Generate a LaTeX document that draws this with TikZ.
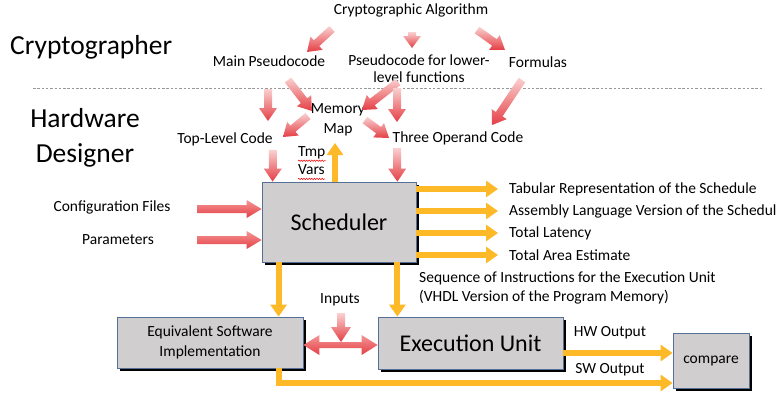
\documentclass[tikz,border=0pt]{standalone}
\usepackage{fontspec}
\setmainfont{Carlito}
\usetikzlibrary{calc,arrows.meta,shadows,decorations.pathmorphing}

\definecolor{redtop}{RGB}{250,208,208}
\definecolor{redmid}{RGB}{244,150,150}
\definecolor{redbot}{RGB}{228,62,68}
\definecolor{gold}{RGB}{253,185,40}
\definecolor{boxfill}{RGB}{208,206,206}
\definecolor{boxline}{RGB}{84,112,150}

\tikzset{redshade/.style={top color=redtop, bottom color=redbot}}

% block arrow with a top-to-bottom red shading:
% #1 shaft half width, #2 head half width, #3 head length, #4 tail, #5 tip
\newcommand\redarrowx[5]{%
  \coordinate (rs) at #4;
  \coordinate (re) at #5;
  \coordinate (rh) at ($(re)!#3pt!(rs)$);
  \shade[redshade]
    ($(rs)!#1pt!90:(re)$) -- ($(rh)!#1pt!90:(re)$) -- ($(rh)!#2pt!90:(re)$) -- (re)
    -- ($(rh)!#2pt!-90:(re)$) -- ($(rh)!#1pt!-90:(re)$) -- ($(rs)!#1pt!-90:(re)$) -- cycle;
}
\newcommand\redarrow[2]{\redarrowx{4}{9}{13}{#1}{#2}}

\begin{document}
\begin{tikzpicture}[x=1pt, y=-1pt,
  font=\fontsize{15.5}{17}\selectfont,
  every node/.style={inner sep=0pt},
  bigtext/.style={font=\fontsize{27.5}{35}\selectfont},
  boxtext/.style={font=\fontsize{24}{26}\selectfont},
  procbox/.style={draw=boxline, line width=0.8pt, fill=boxfill,
    drop shadow={shadow xshift=2.5pt, shadow yshift=-2.5pt, opacity=1, fill=black}},
  goldarrow/.style={draw=gold, line width=6pt, -{Triangle[width=16pt,length=12pt]}},
  spellmark/.style={draw=red, line width=0.5pt, decorate,
    decoration={snake, amplitude=0.7pt, segment length=2.6pt}}]

\useasboundingbox (0,0) rectangle (777,394);
\clip (0,0) rectangle (777,394);

% roles
\node[bigtext, anchor=west] (crypto) at (10,47) {Cryptographer};
\node[bigtext, align=center] (hd) at (85,138) {Hardware\\Designer};

% separator between the two roles
\draw[gray!80, line width=0.7pt, dash pattern=on 2.5pt off 1.8pt] (33,88) -- (762,88);

% cryptographer's artefacts
\node (ca) at (411,10) {Cryptographic Algorithm};
\node (mp) at (269,61) {Main Pseudocode};
\node[align=center] (plf) at (419,69) {Pseudocode for lower-\\level functions};
\node (fo) at (538,62) {Formulas};

% hardware designer's artefacts
\node[align=center, font=\fontsize{15.5}{20}\selectfont] (mm) at (338,120) {Memory\\Map};
\node (tl) at (225,139) {Top-Level Code};
\node (toc) at (458,138) {Three Operand Code};
\node[anchor=west] (tmp) at (298,153) {Tmp};
\node[anchor=west] (vars) at (298,170) {Vars};
\draw[spellmark] ([shift={(0,4)}]tmp.base west) -- ([shift={(0,4)}]tmp.base east);
\draw[spellmark] ([shift={(0,4)}]vars.base west) -- ([shift={(0,4)}]vars.base east);

% scheduler and its inputs / outputs
\node[procbox, minimum width=154pt, minimum height=80pt] (sched) at (339,222) {};
\node[boxtext] at (sched.center) {Scheduler};
\node (cfg) at (112,207) {Configuration Files};
\node (par) at (118,240) {Parameters};
\node[anchor=west] (o1) at (509,189) {Tabular Representation of the Schedule};
\node[anchor=west] (o2) at (509,211) {Assembly Language Version of the Schedule};
\node[anchor=west] (o3) at (509,233) {Total Latency};
\node[anchor=west] (o4) at (509,255) {Total Area Estimate};
\node[anchor=west, align=left, font=\fontsize{15.5}{19}\selectfont] (seq) at (419,288)
  {Sequence of Instructions for the Execution Unit\\(VHDL Version of the Program Memory)};

% execution and verification
\node[procbox, minimum width=186pt, minimum height=51pt, align=center,
  font=\fontsize{15.5}{20}\selectfont] (eq) at (210,342.5) {Equivalent Software\\Implementation};
\node[procbox, minimum width=185pt, minimum height=52pt, boxtext] (eu) at (470.5,343) {Execution Unit};
\node[procbox, minimum width=76pt, minimum height=55pt] (cmp) at (711,360.5) {compare};
\node (inp) at (340,300) {Inputs};
\node (hw) at (610,333) {HW Output};
\node (sw) at (610,370) {SW Output};

% red flows (top part)
\redarrow{([shift={(-79,19)}]ca.center)}{([shift={(38,-9)}]mp.center)}
\redarrowx{4}{9}{12}{([shift={(1,22)}]ca.center)}{([shift={(-7,-21)}]plf.center)}
\redarrow{([shift={(66,20)}]ca.center)}{([shift={(-33,-12)}]fo.center)}
\redarrow{([shift={(-1,28)}]mp.center)}{([shift={(43,-18)}]tl.center)}
\redarrow{([shift={(19,19)}]mp.center)}{([shift={(-26,-9)}]mm.center)}
\redarrow{([shift={(-21,13)}]plf.center)}{([shift={(24,-10)}]mm.center)}
\redarrow{([shift={(-22,19)}]plf.center)}{([shift={(-61,-16)}]toc.center)}
\redarrow{([shift={(-30,-4)}]mm.center)}{([shift={(58,-2)}]tl.center)}
\redarrow{([shift={(27,0)}]mm.center)}{([shift={(-69,0)}]toc.center)}
\redarrow{([shift={(-16,18)}]fo.center)}{([shift={(34,-13)}]toc.center)}
\redarrow{([shift={(48,11)}]tl.center)}{([xshift=11]sched.north west)}
\redarrow{([shift={(-61,10)}]toc.center)}{([xshift=-19]sched.north east)}

% temporary variables back to the memory map
\draw[goldarrow] ([xshift=-4]sched.north) -- ([shift={(-3,23)}]mm.center);

% configuration into the scheduler (horizontal arrows keep a stronger red)
\begin{scope}[redshade/.style={top color=redmid, bottom color=redbot}]
\redarrowx{4}{9}{15}{([shift={(-64,-13)}]sched.west)}{([shift={(0,-13)}]sched.west)}
\redarrowx{4}{9}{15}{([shift={(-64,18)}]sched.west)}{([shift={(0,18)}]sched.west)}
\end{scope}

% scheduler results
\draw[goldarrow] (sched.east |- o1.west) -- ([xshift=-11]o1.west);
\draw[goldarrow] (sched.east |- o2.west) -- ([xshift=-11]o2.west);
\draw[goldarrow] (sched.east |- o3.west) -- ([xshift=-11]o3.west);
\draw[goldarrow] (sched.east |- o4.west) -- ([xshift=-11]o4.west);
\draw[goldarrow] ([xshift=17]sched.south west) -- ([xshift=17]sched.south west |- eq.north);
\draw[goldarrow] ([xshift=-19]sched.south east) -- ([xshift=-19]sched.south east |- eu.north);

% inputs shared by software model and execution unit
\redarrowx{4}{10}{15}{([shift={(1,13)}]inp.center)}{([shift={(1,42)}]inp.center)}
\coordinate (ds) at ([shift={(0,2.5)}]eq.east);
\coordinate (de) at (ds -| eu.west);
\shade[top color=redmid, bottom color=redbot]
  (ds) -- ([shift={(16,-10)}]ds) -- ([shift={(16,-3)}]ds) -- ([shift={(-16,-3)}]de)
  -- ([shift={(-16,-10)}]de) -- (de) -- ([shift={(-16,10)}]de) -- ([shift={(-16,3)}]de)
  -- ([shift={(16,3)}]ds) -- ([shift={(16,10)}]ds) -- cycle;

% outputs compared
\draw[goldarrow] ([shift={(0,10)}]eu.east) -- ([shift={(0,10)}]eu.east -| cmp.west);
\draw[goldarrow] ([xshift=162]eq.south west) |- ([shift={(0,22.5)}]cmp.west);

\end{tikzpicture}
\end{document}
